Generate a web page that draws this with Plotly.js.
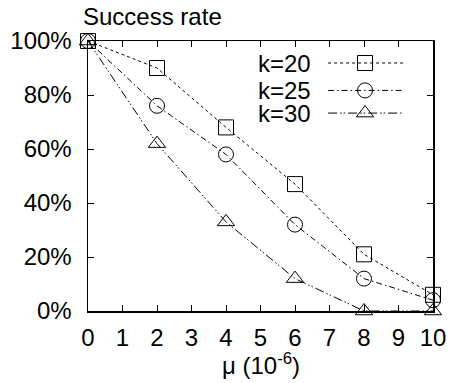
<!DOCTYPE html>
<html><head><meta charset="utf-8">
<script src="https://cdn.plot.ly/plotly-3.0.1.min.js"></script>
<style>body{margin:0;background:#fff}#c{width:451px;height:383px}</style>
</head><body><div id="c"></div>
<script>
var mu = [0, 2, 4, 6, 8, 10];
var k20 = [100, 90, 68, 47, 21, 6];
var k25 = [100, 76, 58, 32, 12, 4];
var k30 = [100, 62, 33, 12, 0, 0];
var seriesNames = ['k=20', 'k=25', 'k=30'];
var xTicks = [0,1,2,3,4,5,6,7,8,9,10];
var yTicks = [0,20,40,60,80,100];
var yTickLabels = ['0%','20%','40%','60%','80%','100%'];

var FONT = 'Liberation Sans, Arial, sans-serif';
var FS = 24;
var styles = [
  {dash:'dot', sym:'square-open', size:15},
  {dash:'6px,3px,1.5px,3px', sym:'circle-open', size:15},
  {dash:'9px,3px,1.5px,2px,1.5px,3px', sym:'triangle-up-open', size:15}
];
var data = [k20, k25, k30];
var traces = [];
data.forEach(function(ys, i){
  traces.push({x: mu, y: ys, type:'scatter', mode:'lines+markers', cliponaxis:false,
    line:{color:'#000', width:1, dash:styles[i].dash},
    marker:{symbol:styles[i].sym, size:styles[i].size, color:'#000', line:{width:1, color:'#000'}},
    showlegend:false, hoverinfo:'skip'});
});
var legY = [0.9185, 0.817, 0.733];
var annotations = [];
data.forEach(function(ys, i){
  traces.push({x:[0.696, 0.913], y:[legY[i], legY[i]], xaxis:'x2', yaxis:'y2', type:'scatter', mode:'lines',
    line:{color:'#000', width:1, dash:styles[i].dash}, showlegend:false, hoverinfo:'skip'});
  traces.push({x:[0.803], y:[legY[i]], xaxis:'x2', yaxis:'y2', type:'scatter', mode:'markers', cliponaxis:false,
    marker:{symbol:styles[i].sym, size:styles[i].size, color:'#000', line:{width:1, color:'#000'}},
    showlegend:false, hoverinfo:'skip'});
  annotations.push({xref:'paper', yref:'paper', x:0.648, y:legY[i], xanchor:'right', yanchor:'middle',
    height:21, valign:'middle', borderpad:0,
    text:seriesNames[i], showarrow:false, font:{family:FONT, size:FS, color:'#000'}});
});
annotations.push({xref:'paper', yref:'paper', x:-0.02, y:1.0, yshift:25, xanchor:'left', yanchor:'middle',
  text:'Success rate', showarrow:false, font:{family:FONT, size:FS, color:'#000'}});
annotations.push({xref:'paper', yref:'paper', x:0.5, y:0, yshift:-53, xanchor:'center', yanchor:'middle',
  text:'μ (10<sup>-6</sup>)', showarrow:false, font:{family:FONT, size:FS, color:'#000'}});

var layout = {
  width:451, height:383,
  margin:{l:88, r:18, t:41, b:72},
  paper_bgcolor:'#fff', plot_bgcolor:'#fff',
  showlegend:false,
  font:{family:FONT, size:FS, color:'#000'},
  xaxis:{range:[0,10], tickvals:xTicks, ticktext:xTicks.map(String), ticks:'inside', ticklen:6, tickwidth:1,
    tickcolor:'#000', showline:true, linecolor:'#000', linewidth:1.5, mirror:'ticks', showgrid:false, zeroline:false,
    fixedrange:true, tickfont:{family:FONT, size:FS}, ticklabelstandoff:5},
  yaxis:{range:[0,100], tickvals:yTicks, ticktext:yTickLabels, ticks:'inside', ticklen:6, tickwidth:1,
    tickcolor:'#000', showline:true, linecolor:'#000', linewidth:1.5, mirror:'ticks', showgrid:false, zeroline:false,
    fixedrange:true, tickfont:{family:FONT, size:FS}, ticklabelstandoff:10},
  xaxis2:{overlaying:'x', range:[0,1], visible:false, fixedrange:true},
  yaxis2:{overlaying:'y', range:[0,1], visible:false, fixedrange:true},
  annotations:annotations
};
Plotly.newPlot('c', traces, layout, {staticPlot:true, displayModeBar:false});
</script></body></html>
